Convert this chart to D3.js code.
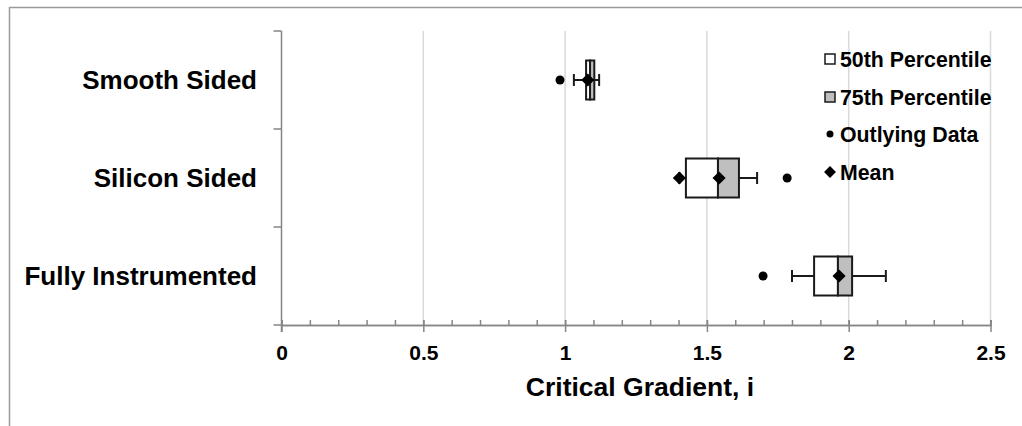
<!DOCTYPE html>
<html>
<head>
<meta charset="utf-8">
<script src="https://cdn.jsdelivr.net/npm/d3@7"></script>
<style>
  body { margin: 0; background: #fff; }
  svg text { font-family: "Liberation Sans", Arial, sans-serif; font-weight: bold; fill: #000; }
</style>
</head>
<body>
<svg id="chart" width="1022" height="426"></svg>
<script>
// categories and box statistics (critical gradient, i)
var categories = ["Smooth Sided", "Silicon Sided", "Fully Instrumented"];
var q1 = [1.074, 1.426, 1.878];
var median = [1.088, 1.539, 1.962];
var q3 = [1.103, 1.613, 2.012];
var whiskerLow = [1.031, 1.403, 1.800];
var whiskerHigh = [1.120, 1.677, 2.131];
var means = [1.080, 1.543, 1.966];
var outliers = [0.982, 1.783, 1.698];
var extraDiamonds = [null, 1.403, null];

var xTicks = [0, 0.5, 1, 1.5, 2, 2.5];
var legendLabels = ["50th Percentile", "75th Percentile", "Outlying Data", "Mean"];

var svg = d3.select("#chart");

// outer frame (runs past the picture edge)
svg.append("rect")
    .attr("x", 9.5).attr("y", 7.5)
    .attr("width", 1100).attr("height", 500)
    .attr("fill", "none").attr("stroke", "#9a9a9a").attr("stroke-width", 1.5);

var x = d3.scaleLinear().domain([0, 2.5]).range([281.5, 990.5]);
var y = d3.scaleBand().domain(categories).range([31, 325]);

var data = categories.map(function(c, i) {
  return { cat: c, q1: q1[i], med: median[i], q3: q3[i], lo: whiskerLow[i], hi: whiskerHigh[i],
           mean: means[i], out: outliers[i], extra: extraDiamonds[i] };
});

/* gridlines */
svg.append("g").selectAll("line")
    .data(xTicks.slice(1))
    .enter().append("line")
    .attr("x1", function(d) { return x(d); }).attr("x2", function(d) { return x(d); })
    .attr("y1", 31).attr("y2", 325)
    .attr("stroke", "#d9d9d9").attr("stroke-width", 1.5);

/* x axis: minor ticks up, major ticks crossing */
var minor = svg.append("g").attr("transform", "translate(0,325)")
    .call(d3.axisTop(x).tickValues(d3.range(0, 26).map(function(i) { return i / 10; }))
      .tickSize(5).tickFormat(""));
var major = svg.append("g").attr("transform", "translate(0,325)")
    .call(d3.axisBottom(x).tickValues(xTicks).tickSizeInner(7).tickSizeOuter(0).tickPadding(13)
      .tickFormat(function(d) { return String(d); }));
major.selectAll(".tick line").attr("y1", -5);
[minor, major].forEach(function(a) {
  a.select(".domain").attr("stroke", "#868686").attr("stroke-width", 1.5);
  a.selectAll(".tick line").attr("stroke", "#868686").attr("stroke-width", 1.5);
});
major.selectAll("text").style("font-size", "21px");

/* y axis */
var yAxis = svg.append("g");
yAxis.append("line")
    .attr("x1", x(0)).attr("x2", x(0)).attr("y1", 31).attr("y2", 332)
    .attr("stroke", "#868686").attr("stroke-width", 1.5);
yAxis.selectAll(".ytick")
    .data(categories.map(function(c) { return y(c); }).concat([y.range()[1]]))
    .enter().append("line")
    .attr("x1", x(0) - 8).attr("x2", x(0))
    .attr("y1", function(d) { return d; }).attr("y2", function(d) { return d; })
    .attr("stroke", "#868686").attr("stroke-width", 1.5);
yAxis.selectAll("text")
    .data(categories)
    .enter().append("text")
    .attr("x", 257)
    .attr("y", function(d) { return y(d) + y.bandwidth() / 2; })
    .attr("dy", "0.36em")
    .attr("text-anchor", "end")
    .style("font-size", "26px")
    .text(function(d) { return d; });

/* axis title */
svg.append("text")
    .attr("x", (x(0) + x(2.5)) / 2 + 4).attr("y", 396)
    .attr("text-anchor", "middle")
    .style("font-size", "26.5px")
    .text("Critical Gradient, i");

/* boxes */
var boxH = 39, capH = 12, ink = "#1a1a1a";
var g = svg.selectAll(".box")
    .data(data)
    .enter().append("g")
    .attr("class", "box")
    .attr("transform", function(d) { return "translate(0," + (y(d.cat) + y.bandwidth() / 2) + ")"; });

g.append("line")
    .attr("x1", function(d) { return x(d.lo); }).attr("x2", function(d) { return x(d.hi); })
    .attr("stroke", ink).attr("stroke-width", 2);
g.selectAll(".cap")
    .data(function(d) { return [d.lo, d.hi]; })
    .enter().append("line")
    .attr("x1", function(v) { return x(v); }).attr("x2", function(v) { return x(v); })
    .attr("y1", -capH / 2).attr("y2", capH / 2)
    .attr("stroke", ink).attr("stroke-width", 2);
g.append("rect")
    .attr("x", function(d) { return x(d.q1); })
    .attr("width", function(d) { return x(d.med) - x(d.q1); })
    .attr("y", -boxH / 2).attr("height", boxH)
    .attr("fill", "#fff").attr("stroke", ink).attr("stroke-width", 2);
g.append("rect")
    .attr("x", function(d) { return x(d.med); })
    .attr("width", function(d) { return x(d.q3) - x(d.med); })
    .attr("y", -boxH / 2).attr("height", boxH)
    .attr("fill", "#bfbfbf").attr("stroke", ink).attr("stroke-width", 2);

var diamond = d3.symbol().type(d3.symbolDiamond2).size(110);
g.append("path")
    .attr("d", diamond)
    .attr("transform", function(d) { return "translate(" + x(d.mean) + ",0)"; })
    .attr("fill", "#000");
g.filter(function(d) { return d.extra != null; }).append("path")
    .attr("d", diamond)
    .attr("transform", function(d) { return "translate(" + x(d.extra) + ",0)"; })
    .attr("fill", "#000");
g.append("circle")
    .attr("cx", function(d) { return x(d.out); })
    .attr("r", 4.5)
    .attr("fill", "#000");

/* legend */
var leg = svg.append("g").attr("transform", "translate(830,0)");
var legY = [59, 97, 134, 172];
var li = leg.selectAll(".li")
    .data(legendLabels)
    .enter().append("g")
    .attr("transform", function(d, i) { return "translate(0," + legY[i] + ")"; });
li.append("text")
    .attr("x", 10).attr("dy", "0.36em")
    .style("font-size", "21.3px")
    .text(function(d) { return d; });
li.filter(function(d, i) { return i < 2; }).append("rect")
    .attr("x", -5).attr("y", -5).attr("width", 10).attr("height", 10)
    .attr("fill", function(d, i) { return i === 0 ? "#fff" : "#bfbfbf"; })
    .attr("stroke", ink).attr("stroke-width", 1.5);
li.filter(function(d, i) { return i === 2; }).append("circle")
    .attr("r", 3.5).attr("fill", "#000");
li.filter(function(d, i) { return i === 3; }).append("path")
    .attr("d", d3.symbol().type(d3.symbolDiamond2).size(90)).attr("fill", "#000");
</script>
</body>
</html>
